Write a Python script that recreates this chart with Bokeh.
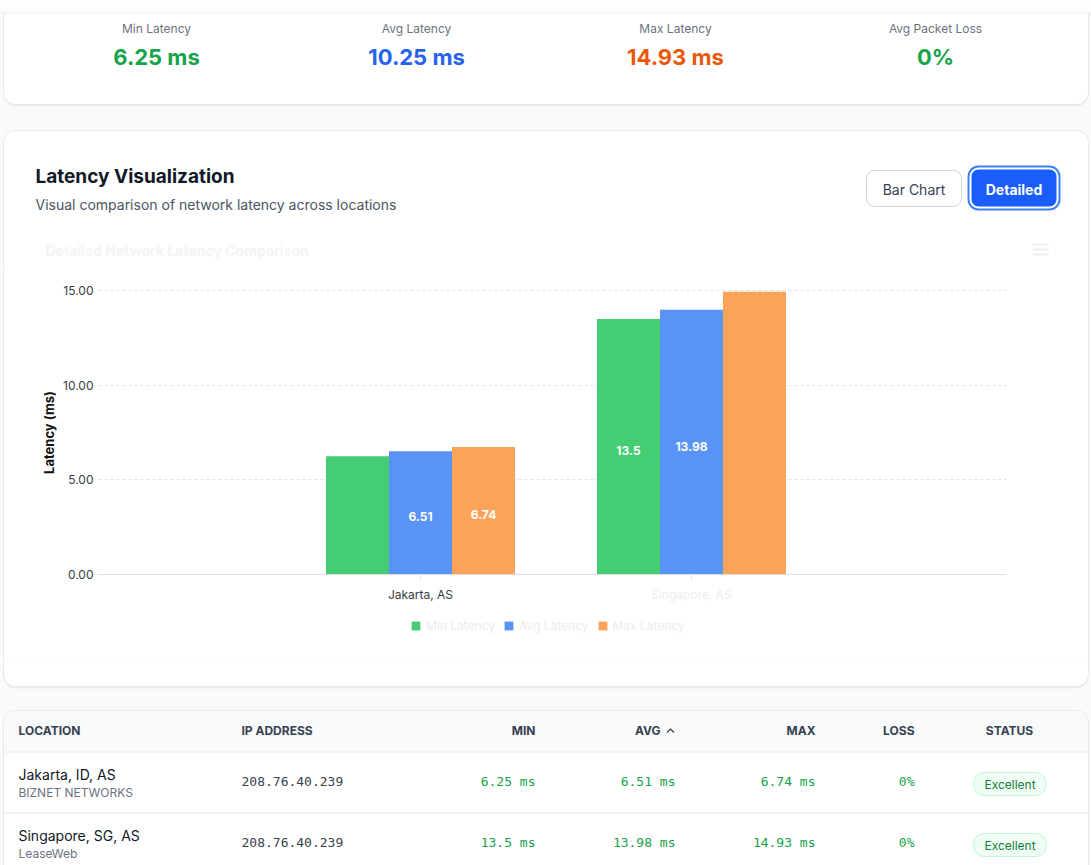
import math
from bokeh.plotting import figure
from bokeh.layouts import column
from bokeh.models import (Range1d, FixedTicker, PrintfTickFormatter, LinearAxis,
                          Legend, LegendItem, ColumnDataSource)
from bokeh.transform import dodge
from bokeh.core.properties import value
from bokeh.embed import file_html
from bokeh.resources import INLINE

# ---- data -------------------------------------------------------------
categories = ["Jakarta, AS", "Singapore, AS"]
series_names = ["Min Latency", "Avg Latency", "Max Latency"]
min_latency = [6.25, 13.5]
avg_latency = [6.51, 13.98]
max_latency = [6.74, 14.93]
# which bars carry an inside value label (per series, per category)
label_shown = [[False, True], [True, True], [True, False]]
y_ticks = [0, 5, 10, 15]
y_title = "Latency (ms)"
tick_label_colors = ["#373d3f", "#eeeeee"]

stat_labels = ["Min Latency", "Avg Latency", "Max Latency", "Avg Packet Loss"]
stat_values = ["6.25 ms", "10.25 ms", "14.93 ms", "0%"]
stat_colors = ["#16a34a", "#2563eb", "#ea580c", "#16a34a"]

table_locations = ["Jakarta, ID, AS", "Singapore, SG, AS"]
table_providers = ["BIZNET NETWORKS", "LeaseWeb"]
table_ips = ["208.76.40.239", "208.76.40.239"]
table_loss = ["0%", "0%"]
table_status = ["Excellent", "Excellent"]

series_values = [min_latency, avg_latency, max_latency]
series_colors = ["#44cd73", "#5893f5", "#fca35a"]

FONT = "Inter"
MONO = "DejaVu Sans Mono"
PAGE_BG = "#f9fafb"
CARD_LINE = "#e7e8eb"
W, H = 1091, 865

# vertical bands of the page (pixels from the top)
TOP_END = 270      # end of the header/summary band
CHART_END = 660    # end of the band that holds the plot


def chrome(x0, x1, y0, y1):
    """A figure whose whole canvas maps 1:1 to page pixels (y measured downward)."""
    f = figure(width=x1 - x0, height=y1 - y0, x_range=Range1d(x0, x1),
               y_range=Range1d(-y1, -y0), output_backend="svg", toolbar_location=None,
               x_axis_location=None, y_axis_location=None, min_border=0,
               outline_line_color=None, background_fill_color=PAGE_BG,
               border_fill_color=PAGE_BG)
    f.grid.visible = False
    return f


def rbox(f, l, r, t, b, fill, line=None, lw=1, radius=0, alpha=1.0, **kw):
    f.quad(left=l, right=r, top=-t, bottom=-b, fill_color=fill,
           fill_alpha=alpha if fill else 0, line_color=line, line_width=lw,
           line_alpha=1 if line else 0, border_radius=radius, **kw)


def txt(f, x, y, s, size, color, align="left", bold=False, font=FONT, angle=0.0, **kw):
    f.text(x=[x], y=[-y], text=[s], text_font=value(font), text_font_size=f"{size}px",
           text_color=color, text_align=align, text_baseline="middle", angle=angle,
           text_font_style="bold" if bold else "normal", **kw)


# ---- header strip, summary card, chart card heading ---------------------
top = chrome(0, W, 0, TOP_END)
rbox(top, 3, 1088, -20, 106, "#000000", radius=12, alpha=0.05)
rbox(top, 3, 1088, -20, 104, "white", line=CARD_LINE, radius=12)
rbox(top, -5, 1100, -10, 12, "#fdfdfd")
rbox(top, -5, 1100, 12, 13, "#eeeeee")
stat_centers = [156, 416, 675, 935]
for cx, lab, val, col in zip(stat_centers, stat_labels, stat_values, stat_colors):
    txt(top, cx, 28, lab, 12, "#6b7280", align="center")
    txt(top, cx, 56, val, 22, col, align="center", bold=True)

rbox(top, 3, 1088, 130, 400, "white", line=CARD_LINE, radius=12)
txt(top, 35, 176, "Latency Visualization", 19, "#111827", bold=True)
txt(top, 35, 204, "Visual comparison of network latency across locations", 14, "#4b5563")

# view toggle buttons
rbox(top, 866, 961, 170, 206, "white", line="#d1d5db", radius=8)
txt(top, 913.5, 188.5, "Bar Chart", 14, "#374151", align="center")
rbox(top, 968, 1059, 166, 209, None, line="#3b82f6", lw=2, radius=10)
rbox(top, 971, 1056, 169, 206, "#1a5dfb", radius=7)
txt(top, 1013.5, 188.5, "Detailed", 14, "white", align="center", bold=True)

# faint chart title and menu icon
txt(top, 45, 250, "Detailed Network Latency Comparison", 14, "#f3f4f6", bold=True)
for yy in (243, 248, 253):
    rbox(top, 1032, 1048, yy, yy + 2, "#eeeeee")

# ---- the bar chart (its frame fills the whole middle band) --------------
PLOT_L, PLOT_R = 98, 1006                # page columns where the plot area runs
TOP_Y, ZERO_Y = 290, 574                 # page rows of the 15 ms and zero lines
px_per_ms = (ZERO_Y - TOP_Y) / y_ticks[-1]
slot_px = 271.0
center0 = 420.0
x_start = 0.5 - center0 / slot_px
x_end = x_start + W / slot_px
y_end = y_ticks[-1] + (TOP_Y - TOP_END) / px_per_ms
y_start = -(CHART_END - ZERO_Y) / px_per_ms


def x_at(px):
    return x_start + px / slot_px


p = figure(width=W, height=CHART_END - TOP_END,
           x_range=Range1d(x_start, x_end), y_range=Range1d(y_start, y_end),
           output_backend="svg", toolbar_location=None, min_border=0,
           background_fill_color=PAGE_BG, border_fill_color=PAGE_BG,
           outline_line_color=None)
p.extra_x_ranges = {"page": Range1d(0, W)}
p.extra_y_ranges = {"page": Range1d(-CHART_END, -TOP_END)}
page = dict(x_range_name="page", y_range_name="page")

# card body behind everything in the band
rbox(p, 3, 1088, TOP_END - 20, CHART_END + 20, "white", line=CARD_LINE, level="image", **page)

# dashed value grid limited to the plot area
p.xgrid.visible = False
grid_span = (x_at(PLOT_L), x_at(PLOT_R))
if "cross_bounds" in p.ygrid[0].properties():
    p.ygrid.ticker = FixedTicker(ticks=y_ticks)
    p.ygrid.cross_bounds = grid_span
    p.ygrid.grid_line_color = "#e0e0e0"
    p.ygrid.grid_line_dash = "3 3"
else:
    p.ygrid.visible = False
    p.segment(x0=[grid_span[0]] * len(y_ticks), x1=[grid_span[1]] * len(y_ticks),
              y0=y_ticks, y1=y_ticks, line_color="#e0e0e0", line_dash="3 3",
              level="underlay")

bar_w = 63 / slot_px
offsets = [-bar_w, 0.0, bar_w]
xc = [i + 0.5 for i in range(len(categories))]
legend_items = []
for name, vals, col, off in zip(series_names, series_values, series_colors, offsets):
    src = ColumnDataSource(dict(xc=xc, top=vals))
    r = p.vbar(x=dodge("xc", off, range=p.x_range), top="top", bottom=0, width=bar_w,
               source=src, fill_color=col, line_color=None)
    legend_items.append(LegendItem(label=name, renderers=[r]))

lx, ly, lt = [], [], []
for vals, off, shown in zip(series_values, offsets, label_shown):
    for i, v in enumerate(vals):
        if shown[i]:
            lx.append(xc[i] + off)
            ly.append(v / 2)
            lt.append(f"{v:g}")
p.text(x=lx, y=ly, text=lt, text_color="white", text_font=value(FONT),
       text_font_style="bold", text_font_size="12px", text_align="center",
       text_baseline="middle", y_offset=4)

yax = p.yaxis[0]
yax.fixed_location = x_at(PLOT_L)
yax.bounds = (y_ticks[0], y_ticks[-1])
yax.ticker = FixedTicker(ticks=y_ticks)
yax.formatter = PrintfTickFormatter(format="%.2f")
yax.major_label_text_font = FONT
yax.major_label_text_font_size = "12px"
yax.major_label_text_color = "#373d3f"
yax.major_tick_out = 0
yax.major_tick_in = 0
yax.major_label_standoff = 5
yax.axis_line_color = None
yax.major_tick_line_color = None
yax.minor_tick_line_color = None

# value-axis title, centred on the 0..15 span
txt(p, 48, (TOP_Y + ZERO_Y) / 2, y_title, 13, "#111111", align="center",
    bold=True, angle=math.pi / 2, **page)

# category axes pinned at zero: one axis per tick-label colour
x_axes = [p.xaxis[0]]
for _ in range(len(set(tick_label_colors)) - 1):
    ax = LinearAxis()
    p.add_layout(ax, "below")
    x_axes.append(ax)
for k, (ax, colr) in enumerate(zip(x_axes, dict.fromkeys(tick_label_colors))):
    ax.fixed_location = 0
    ax.bounds = grid_span
    ax.ticker = FixedTicker(ticks=xc)
    ax.major_label_overrides = {xc[i]: (c if tick_label_colors[i] == colr else "")
                                for i, c in enumerate(categories)}
    ax.major_label_text_font = FONT
    ax.major_label_text_font_size = "12px"
    ax.major_label_text_color = colr
    ax.major_label_standoff = 6
    ax.major_tick_in = 0
    ax.major_tick_out = 6
    ax.minor_tick_line_color = None
    ax.axis_line_color = "#e0e0e0" if k == 0 else None
    ax.major_tick_line_color = "#e0e0e0" if k == 0 else None

legend = Legend(items=legend_items, orientation="horizontal", location=(410, CHART_END - 633),
                glyph_width=11, glyph_height=11, label_height=12, label_standoff=5,
                spacing=8, padding=0, margin=0, background_fill_alpha=0,
                border_line_alpha=0, label_text_font=FONT, label_text_font_size="12px",
                label_text_color="#ececec")
p.add_layout(legend, "center")

# ---- bottom of chart card and the results table -------------------------
bot = chrome(0, W, CHART_END, H)
rbox(bot, 3, 1088, 500, 688, "#000000", radius=12, alpha=0.05)
rbox(bot, 3, 1088, 500, 686, "white", line=CARD_LINE, radius=12)
rbox(bot, 3, 1088, 710, 902, "#000000", radius=12, alpha=0.05)
rbox(bot, 3, 1088, 710, 900, "white", line=CARD_LINE, radius=12)
rbox(bot, 4, 1087, 711, 751, "#f9fafb", radius=(11, 11, 0, 0))
rbox(bot, 4, 1087, 751, 752, "#e5e7eb")
rbox(bot, 4, 1087, 812, 813, "#e5e7eb")

hy = 730
hc = "#374151"
txt(bot, 18, hy, "LOCATION", 12, hc, bold=True)
txt(bot, 241, hy, "IP ADDRESS", 12, hc, bold=True)
txt(bot, 535, hy, "MIN", 12, hc, align="right", bold=True)
txt(bot, 660, hy, "AVG", 12, hc, align="right", bold=True)
bot.line(x=[666.5, 670, 673.5], y=[-732, -728.5, -732], line_color=hc, line_width=1.2)
txt(bot, 815, hy, "MAX", 12, hc, align="right", bold=True)
txt(bot, 914, hy, "LOSS", 12, hc, align="right", bold=True)
txt(bot, 1009, hy, "STATUS", 12, hc, align="center", bold=True)

row_mid = [781, 842]
for i in range(len(table_locations)):
    ym = row_mid[i]
    txt(bot, 18, ym - 7, table_locations[i], 14, "#111827")
    txt(bot, 18, ym + 11, table_providers[i], 12, "#6b7280")
    txt(bot, 241, ym, table_ips[i], 13, "#374151", font=MONO)
    txt(bot, 535, ym, f"{min_latency[i]:g} ms", 13, "#16a34a", align="right", font=MONO)
    txt(bot, 675, ym, f"{avg_latency[i]:g} ms", 13, "#16a34a", align="right", font=MONO)
    txt(bot, 815, ym, f"{max_latency[i]:g} ms", 13, "#16a34a", align="right", font=MONO)
    txt(bot, 914, ym, table_loss[i], 13, "#16a34a", align="right", font=MONO)
    rbox(bot, 973, 1046, ym - 9, ym + 14, "#f0fdf4", line="#bbf7d0", radius=11)
    txt(bot, 1009.5, ym + 2.5, table_status[i], 12, "#15803d", align="center")

layout = column(top, p, bot, spacing=0)
open("out.html", "w").write(file_html(layout, INLINE))
